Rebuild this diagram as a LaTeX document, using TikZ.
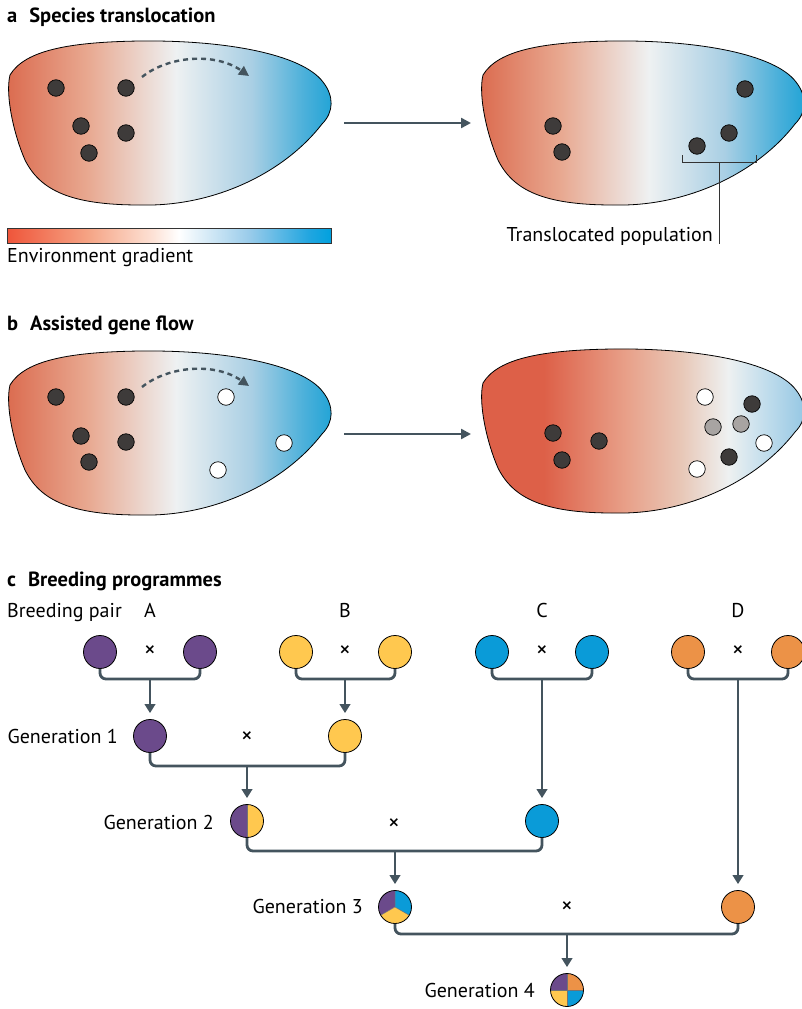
\documentclass[tikz,border=0pt]{standalone}
\usepackage{fontspec}
\setmainfont{PT Sans}
\usetikzlibrary{arrows.meta}
\definecolor{cpurple}{HTML}{6B4A8B}
\definecolor{cyellow}{HTML}{FFC84F}
\definecolor{cblue}{HTML}{0A9BD8}
\definecolor{corange}{HTML}{EC9247}
\definecolor{cdot}{HTML}{3E3B3A}
\definecolor{cgray}{HTML}{A8A4A2}
\definecolor{cconn}{HTML}{44545E}
\definecolor{gA0}{HTML}{DB6A4E}
\definecolor{gA1}{HTML}{E8A890}
\definecolor{gA2}{HTML}{EEF1F2}
\definecolor{gA3}{HTML}{A9CFE4}
\definecolor{gA4}{HTML}{4BB0DA}
\definecolor{gA5}{HTML}{1FA3D6}
\definecolor{gB0}{HTML}{DD6048}
\definecolor{gB1}{HTML}{E8A089}
\definecolor{gB2}{HTML}{E8C8B8}
\definecolor{gB3}{HTML}{EEF1F1}
\definecolor{gB4}{HTML}{BFDCEC}
\definecolor{gB5}{HTML}{93C6E3}
\definecolor{gC0}{HTML}{EF553A}
\definecolor{gC1}{HTML}{F5A485}
\definecolor{gC2}{HTML}{FDE2D6}
\definecolor{gC3}{HTML}{FFFFFF}
\definecolor{gC4}{HTML}{98CBEA}
\definecolor{gC5}{HTML}{22A6E0}
\definecolor{gC6}{HTML}{00A1DF}
\pgfdeclarehorizontalshading{blobgradA}{100bp}{color(0bp)=(gA0); color(25bp)=(gA0); color(37.5bp)=(gA1); color(51bp)=(gA2); color(62.5bp)=(gA3); color(70.5bp)=(gA4); color(75bp)=(gA5); color(100bp)=(gA5)}
\pgfdeclarehorizontalshading{blobgradB}{100bp}{color(0bp)=(gB0); color(25bp)=(gB0); color(35bp)=(gB0); color(47.5bp)=(gB1); color(56bp)=(gB2); color(63bp)=(gB3); color(69bp)=(gB4); color(75bp)=(gB5); color(100bp)=(gB5)}
\pgfdeclarehorizontalshading{bargrad}{100bp}{color(0bp)=(gC0); color(25bp)=(gC0); color(37.5bp)=(gC1); color(47.5bp)=(gC2); color(51.5bp)=(gC3); color(62.5bp)=(gC4); color(71.5bp)=(gC5); color(75bp)=(gC6); color(100bp)=(gC6)}
\newcommand{\drawblob}[3]{%
\begin{scope}[shift={(#1,#2)}]
\shadedraw[shading=#3, draw=black, line width=0.8pt]
 (10,75) .. controls (25,50) and (70,42) .. (140,41)
 .. controls (225,40) and (302,54) .. (323,82)
 .. controls (334,96) and (334,112) .. (322,124)
 .. controls (285,172) and (215,207) .. (140,205)
 .. controls (70,205) and (40,190) .. (25,160)
 .. controls (14,135) and (5,95) .. (10,75) -- cycle;
\end{scope}}
\begin{document}
\begin{tikzpicture}[x=1pt,y=-1pt,
  lbl/.style={inner sep=0pt, font=\fontsize{20}{24}\selectfont},
  ttl/.style={inner sep=0pt, font=\fontsize{20.5}{24}\selectfont\bfseries},
  tms/.style={inner sep=0pt, font=\fontsize{23}{26}\selectfont},
  dkdot/.style={circle, draw=black, line width=0.7pt, fill=cdot, minimum size=16.5pt, inner sep=0pt},
  whdot/.style={circle, draw=black, line width=0.7pt, fill=white, minimum size=16.5pt, inner sep=0pt},
  grdot/.style={circle, draw=black, line width=0.7pt, fill=cgray, minimum size=16.5pt, inner sep=0pt},
  pcirc/.style={circle, draw=black, line width=0.8pt, minimum size=33pt, inner sep=0pt},
  conn/.style={draw=cconn, line width=2.8pt, rounded corners=6pt},
  carrow/.style={draw=cconn, line width=2.8pt, -{Triangle[length=9pt,width=10.5pt]}, shorten >=6pt},
  bigarrow/.style={draw=cconn, line width=2.4pt, -{Triangle[length=10pt,width=10pt]}},
  dasharrow/.style={draw=cconn, line width=2.4pt, dash pattern=on 5pt off 4pt, -{Triangle[length=10pt,width=10pt]}},
]
\useasboundingbox (0,0) rectangle (801,1009);

% ---------- a ----------
\node[ttl, anchor=base west] (ta) at (7,22.5) {a\hspace{12pt}Species translocation};
\drawblob{0}{0}{blobgradA}
\drawblob{473}{0}{blobgradA}
\node[dkdot] (a1) at (56,88) {};
\node[dkdot] (a2) at (126,88) {};
\node[dkdot] (a3) at (81,126) {};
\node[dkdot] (a4) at (126,133) {};
\node[dkdot] (a5) at (89,153) {};
\draw[dasharrow] (142,77) .. controls (168,56) and (215,52) .. (249,76);
\node[dkdot] (ar1) at (553,126) {};
\node[dkdot] (ar2) at (562,152) {};
\node[dkdot] (ar3) at (745,89) {};
\node[dkdot] (ar4) at (729,133) {};
\node[dkdot] (ar5) at (697,146) {};
\coordinate (aS) at (344,123);
\coordinate (aE) at (471,123);
\draw[bigarrow] (aS) -- (aE);
% bracket
\coordinate (brL) at (682,155);
\coordinate (brR) at (756,155);
\coordinate (brM) at (719,162);
\draw[black!80, line width=0.9pt] (brL) -- (682,162) -- (756,162) -- (brR);
\node[lbl, anchor=base east] (tpop) at (713,241) {Translocated population};
\draw[black!80, line width=0.9pt] (brM) -- (719,244);
% gradient bar
\shadedraw[shading=bargrad, draw=black!80, line width=0.7pt] (7,228) rectangle (331,243.5);
\node[lbl, anchor=base west] (tenv) at (7,262) {Environment gradient};

% ---------- b ----------
\node[ttl, anchor=base west] (tb) at (7,330.5) {b\hspace{12pt}Assisted gene flow};
\drawblob{0}{310}{blobgradA}
\drawblob{473}{308}{blobgradB}
\node[dkdot] (b1) at (56,397) {};
\node[dkdot] (b2) at (126,397) {};
\node[dkdot] (b3) at (81,436) {};
\node[dkdot] (b4) at (126,442) {};
\node[dkdot] (b5) at (89,462) {};
\node[whdot] (bw1) at (226,397) {};
\node[whdot] (bw2) at (284,443) {};
\node[whdot] (bw3) at (218,470) {};
\draw[dasharrow] (142,387) .. controls (168,366) and (215,362) .. (249,386);
\coordinate (bS) at (344,434);
\coordinate (bE) at (471,434);
\draw[bigarrow] (bS) -- (bE);
\node[dkdot] (br1) at (553,433) {};
\node[dkdot] (br2) at (562,460) {};
\node[dkdot] (br3) at (599,441) {};
\node[dkdot] (br4) at (752,404) {};
\node[dkdot] (br5) at (729,457) {};
\node[grdot] (bg1) at (713,427) {};
\node[grdot] (bg2) at (741,424) {};
\node[whdot] (bw4) at (705,397) {};
\node[whdot] (bw5) at (764,443) {};
\node[whdot] (bw6) at (697,469) {};

% ---------- c ----------
\node[ttl, anchor=base west] (tc) at (7,586) {c\hspace{12pt}Breeding programmes};
\node[lbl, anchor=base west] (tbp) at (7,617) {Breeding pair};
\node[lbl, anchor=base] (tA) at (150,617) {A};
\node[lbl, anchor=base] (tB) at (345,617) {B};
\node[lbl, anchor=base] (tC) at (542,617) {C};
\node[lbl, anchor=base] (tD) at (738,617) {D};

\node[pcirc, fill=cpurple] (A1) at (100,652) {};
\node[pcirc, fill=cpurple] (A2) at (200,652) {};
\node[pcirc, fill=cyellow] (B1) at (296,652) {};
\node[pcirc, fill=cyellow] (B2) at (395,652) {};
\node[pcirc, fill=cblue] (C1) at (492,652) {};
\node[pcirc, fill=cblue] (C2) at (592,652) {};
\node[pcirc, fill=corange] (D1) at (688,652) {};
\node[pcirc, fill=corange] (D2) at (788,652) {};
\node[tms] (xA) at (150,652) {×};
\node[tms] (xB) at (345,652) {×};
\node[tms] (xC) at (542,652) {×};
\node[tms] (xD) at (738,652) {×};

\coordinate (jA) at (150,679);
\coordinate (jB) at (345,679);
\coordinate (jC) at (542,679);
\coordinate (jD) at (738,679);
\draw[conn] (A1.south) |- (jA) -| (A2.south);
\draw[conn] (B1.south) |- (jB) -| (B2.south);
\draw[conn] (C1.south) |- (jC) -| (C2.south);
\draw[conn] (D1.south) |- (jD) -| (D2.south);

% generation 1
\node[pcirc, fill=cpurple] (G1A) at (150,736) {};
\node[pcirc, fill=cyellow] (G1B) at (345,736) {};
\node[lbl, anchor=base east] (tg1) at (118,743) {Generation 1};
\node[tms] (x1) at (247,738) {×};
\draw[carrow] (jA) -- (G1A.north);
\draw[carrow] (jB) -- (G1B.north);

% generation 2
\begin{scope}[shift={(247,821)}, x=1pt, y=1pt]
\fill[cpurple] (0,0) -- (90:16.5) arc[start angle=90, end angle=270, radius=16.5] -- cycle;
\fill[cyellow] (0,0) -- (-90:16.5) arc[start angle=-90, end angle=90, radius=16.5] -- cycle;
\draw[black!55, line width=0.5pt] (90:16.5) -- (-90:16.5);
\end{scope}
\node[pcirc] (G2) at (247,821) {};
\node[pcirc, fill=cblue] (G2C) at (542,821) {};
\node[lbl, anchor=base east] (tg2) at (214,829) {Generation 2};
\node[tms] (x2) at (394,825) {×};
\coordinate (j1) at (247,766);
\draw[conn] (G1A.south) |- (j1) -| (G1B.south);
\draw[carrow] (j1) -- (G2.north);
\draw[carrow] (jC) -- (G2C.north);

% generation 3
\begin{scope}[shift={(395,907)}, x=1pt, y=1pt]
\fill[cpurple] (0,0) -- (90:16.5) arc[start angle=90, end angle=210, radius=16.5] -- cycle;
\fill[cyellow] (0,0) -- (210:16.5) arc[start angle=210, end angle=330, radius=16.5] -- cycle;
\fill[cblue] (0,0) -- (-30:16.5) arc[start angle=-30, end angle=90, radius=16.5] -- cycle;
\draw[black!55, line width=0.5pt] (90:16.5) -- (0,0) -- (210:16.5) (0,0) -- (-30:16.5);
\end{scope}
\node[pcirc] (G3) at (395,907) {};
\node[pcirc, fill=corange] (G3D) at (738,907) {};
\node[lbl, anchor=base east] (tg3) at (363,913) {Generation 3};
\node[tms] (x3) at (567,908) {×};
\coordinate (j2) at (395,851);
\draw[conn] (G2.south) |- (j2) -| (G2C.south);
\draw[carrow] (j2) -- (G3.north);
\draw[carrow] (jD) -- (G3D.north);

% generation 4
\begin{scope}[shift={(567,990)}, x=1pt, y=1pt]
\fill[cpurple] (0,0) -- (90:16.5) arc[start angle=90, end angle=180, radius=16.5] -- cycle;
\fill[cyellow] (0,0) -- (180:16.5) arc[start angle=180, end angle=270, radius=16.5] -- cycle;
\fill[cblue] (0,0) -- (270:16.5) arc[start angle=270, end angle=360, radius=16.5] -- cycle;
\fill[corange] (0,0) -- (0:16.5) arc[start angle=0, end angle=90, radius=16.5] -- cycle;
\draw[black!55, line width=0.5pt] (90:16.5) -- (-90:16.5) (180:16.5) -- (0:16.5);
\end{scope}
\node[pcirc] (G4) at (567,990) {};
\node[lbl, anchor=base east] (tg4) at (535,997) {Generation 4};
\coordinate (j3) at (567,934);
\draw[conn] (G3.south) |- (j3) -| (G3D.south);
\draw[carrow] (j3) -- (G4.north);
\end{tikzpicture}
\end{document}
